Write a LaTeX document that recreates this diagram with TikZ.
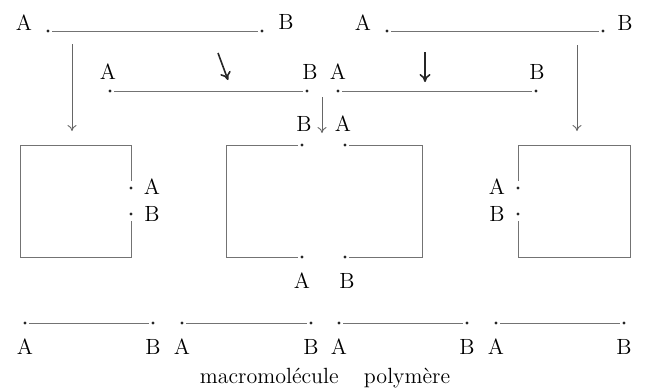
\documentclass[tikz,border=0pt]{standalone}
\usetikzlibrary{arrows.meta}
\begin{document}
\begin{tikzpicture}[x=0.5pt,y=-0.5pt,
  dot/.style={circle,fill=black!85,inner sep=0pt,minimum size=1.6pt,outer sep=1.2pt},
  lbl/.style={inner sep=0pt,font=\fontsize{11}{13}\selectfont},
  seg/.style={draw=black!55,line width=0.45pt},
  thinarrow/.style={draw=black!60,line width=0.45pt,-{To[length=3pt,width=4.5pt]}},
  thickarrow/.style={draw=black!85,line width=0.8pt,-{To[length=4pt,width=5.5pt]}}]
\useasboundingbox (0,0) rectangle (646,388);
% top row
\node[dot] (t1a) at (48,31) {};
\node[dot] (t1b) at (262,31) {};
\node[lbl] (t1al) at (24,23) {A};
\node[lbl] (t1bl) at (286,22) {B};
\draw[seg] (t1a) -- (t1b);
\node[dot] (t2a) at (387,31) {};
\node[dot] (t2b) at (603,31) {};
\node[lbl] (t2al) at (363,23) {A};
\node[lbl] (t2bl) at (625,23) {B};
\draw[seg] (t2a) -- (t2b);
% second row
\node[dot] (s1a) at (110,91) {};
\node[dot] (s1b) at (307,91) {};
\node[lbl] (s1al) at (108,72) {A};
\node[lbl] (s1bl) at (310,72) {B};
\draw[seg] (s1a) -- (s1b);
\node[dot] (s2a) at (338,91) {};
\node[dot] (s2b) at (536,91) {};
\node[lbl] (s2al) at (338,72) {A};
\node[lbl] (s2bl) at (537,72) {B};
\draw[seg] (s2a) -- (s2b);
% arrows
\coordinate (ar1s) at (72,44);   \coordinate (ar1e) at (72,131);
\coordinate (ar2s) at (218,53);  \coordinate (ar2e) at (228,80);
\coordinate (ar3s) at (425,52);  \coordinate (ar3e) at (425,82);
\coordinate (ar4s) at (322,97);  \coordinate (ar4e) at (322,133);
\coordinate (ar5s) at (577,45);  \coordinate (ar5e) at (577,131);
\draw[thinarrow] (ar1s) -- (ar1e);
\draw[thickarrow] (ar2s) -- (ar2e);
\draw[thickarrow] (ar3s) -- (ar3e);
\draw[thinarrow] (ar4s) -- (ar4e);
\draw[thinarrow] (ar5s) -- (ar5e);
\node[lbl] (mbl) at (304,124) {B};
\node[lbl] (mal) at (343,124) {A};
% box 1
\coordinate (b1tr) at (131,145); \coordinate (b1tl) at (20,145);
\coordinate (b1bl) at (20,257);  \coordinate (b1br) at (131,257);
\node[dot] (b1a) at (131,188) {};
\node[dot] (b1b) at (131,214) {};
\draw[seg] (b1a.north) ++(0,-3) -- (b1tr) -- (b1tl) -- (b1bl) -- (b1br) -- ([yshift=-1.5pt]b1b.south);
\node[lbl] (b1al) at (152,187) {A};
\node[lbl] (b1bl2) at (152,214) {B};
% box 2 left half
\coordinate (m1tl) at (226,145); \coordinate (m1bl) at (226,257);
\node[dot] (m1t) at (302,145) {};
\node[dot] (m1b) at (302,257) {};
\draw[seg] (m1t) -- (m1tl) -- (m1bl) -- (m1b);
% box 2 right half
\coordinate (m2tr) at (422,145); \coordinate (m2br) at (422,257);
\node[dot] (m2t) at (345,145) {};
\node[dot] (m2b) at (345,257) {};
\draw[seg] (m2t) -- (m2tr) -- (m2br) -- (m2b);
\node[lbl] (m1bl2) at (302,281) {A};
\node[lbl] (m2bl2) at (347,281) {B};
% box 3
\coordinate (b3tl) at (518,145); \coordinate (b3tr) at (630,145);
\coordinate (b3br) at (630,257); \coordinate (b3bl) at (518,257);
\node[dot] (b3a) at (518,188) {};
\node[dot] (b3b) at (518,214) {};
\draw[seg] ([yshift=1.5pt]b3a.north) -- (b3tl) -- (b3tr) -- (b3br) -- (b3bl) -- ([yshift=-1.5pt]b3b.south);
\node[lbl] (b3al) at (497,187) {A};
\node[lbl] (b3bl2) at (497,214) {B};
% bottom row
\foreach \i/\xa/\xb in {1/25/153,2/182/311,3/339/467,4/496/624}{
  \node[dot] (u\i a) at (\xa,323) {};
  \node[dot] (u\i b) at (\xb,323) {};
  \draw[seg] (u\i a) -- (u\i b);
  \node[lbl] (u\i al) at (\xa,347) {A};
  \node[lbl] (u\i bl) at (\xb,347) {B};
}
\node[lbl,anchor=base] (cap) at (325,383) {macromolécule\hspace{9pt} polymère};
\end{tikzpicture}
\end{document}
